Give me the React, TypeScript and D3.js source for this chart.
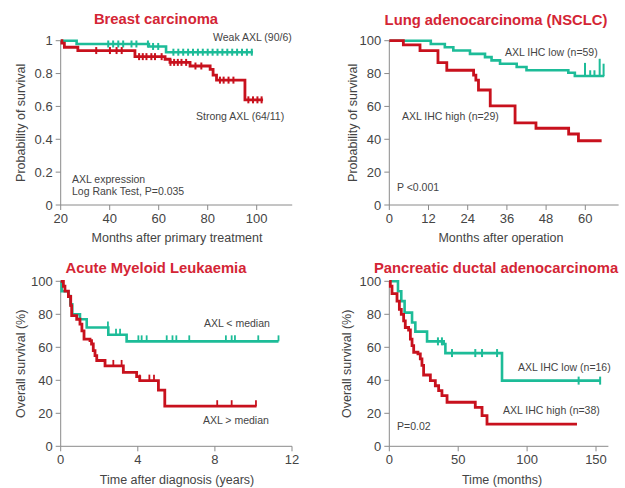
import React from "react";
import * as d3 from "d3";

// ---------- DATA ----------
// Breast carcinoma (months after primary treatment, probability)
const breastWeak: [number, number][] = [[20, 1], [26.5, 0.98], [56, 0.965], [63, 0.93], [98.5, 0.93]];
const breastWeakCensor = [39.4, 41.4, 43.5, 45.5, 48.9, 50.9, 55.6, 57.7, 59.8, 66, 68, 70, 72, 74, 76, 78, 80, 82, 84, 86, 88, 90, 92, 94, 96, 98];
const breastStrong: [number, number][] = [[20, 1], [20.5, 0.985], [21.5, 0.96], [27, 0.94], [50.3, 0.903], [62.6, 0.887], [64.6, 0.868], [72.8, 0.846], [81, 0.826], [82.2, 0.79], [83.6, 0.76], [95.2, 0.64], [102.6, 0.64]];
const breastStrongCensor = [34.5, 40.1, 42.8, 44.9, 52, 53.5, 55, 57, 58.5, 61.2, 64.8, 66.3, 67.8, 69.3, 71.2, 75, 77.4, 85, 86.5, 88.5, 90.5, 96.6, 98.5, 100.3, 102];

// Lung adenocarcinoma (months after operation, %)
const lungLow: [number, number][] = [[0, 100], [12.7, 98], [17, 96], [19.6, 94], [24.7, 92], [29.3, 90], [31.3, 88], [33.9, 86], [39, 84], [42, 82], [54.8, 80.5], [56.8, 78.5], [65.8, 78.5]];
const lungLowCensor = [59.9, 61.5, 62.8, 64.4, 65.6];
const lungLowCensorTop = [86.5, 82, 82, 89, 86];
const lungHigh: [number, number][] = [[0, 100], [4.3, 97.5], [9.4, 94], [14.9, 86.6], [17.6, 82], [25.8, 79], [26.5, 76], [27.3, 70], [30.9, 60.3], [38.5, 50], [44.9, 46.7], [54.9, 43.2], [57.9, 39.1], [65, 39.1]];

// Acute Myeloid Leukaemia (years after diagnosis, %)
const amlLow: [number, number][] = [[0, 100], [0.05, 94], [0.4, 91], [0.5, 86], [0.6, 80], [1.0, 77], [1.35, 72], [2.47, 67.6], [3.42, 63.6], [11.3, 63.6]];
const amlLowCensor = [1.0, 2.45, 2.87, 3.08, 4.03, 4.2, 4.46, 5.5, 5.8, 6.0, 6.67, 8.57, 8.87, 9.04, 10.25, 11.3];
const amlHigh: [number, number][] = [[0, 100], [0.14, 97], [0.22, 94], [0.4, 90.8], [0.52, 85.2], [0.57, 79.2], [0.83, 77], [1.0, 74], [1.1, 70], [1.21, 65], [1.52, 64], [1.6, 62], [1.69, 58], [1.78, 55], [1.87, 52], [2.3, 48.7], [3.25, 44.8], [3.94, 42.2], [4.1, 39.8], [5.07, 34], [5.4, 24.3], [10.16, 24.3]];
const amlHighCensor = [2.73, 3.16, 4.1, 4.6, 4.84, 8.12, 8.87, 10.13];

// Pancreatic ductal adenocarcinoma (months, %)
const pancLow: [number, number][] = [[0, 100], [6.3, 94], [8.7, 88], [11.1, 81], [16.5, 75], [18.9, 69.5], [27.4, 63.6], [39.5, 62], [40.7, 56.5], [81.8, 39.8], [153, 39.8]];
const pancLowCensor = [35.3, 38.2, 45.5, 62.4, 67.3, 78.2, 137.4, 153];
const pancHigh: [number, number][] = [[0, 100], [0.75, 97], [1.96, 92.5], [5.6, 88], [7.3, 83], [8.7, 80], [10.4, 76], [11.6, 72], [14, 70.5], [15.3, 65], [16.5, 61], [17.7, 57], [20.8, 56], [22.5, 53], [23.7, 49], [24.9, 43.2], [29.8, 39.8], [33.4, 36.7], [35.8, 33.7], [38.2, 30.7], [41.9, 26.7], [62.4, 23.6], [67.3, 18.6], [70.9, 13.5], [136.2, 13.5]];

const breastXTicks = [20, 40, 60, 80, 100];
const breastYTicks = [0, 0.2, 0.4, 0.6, 0.8, 1];
const lungXTicks = [0, 12, 24, 36, 48, 60];
const pctYTicks = [0, 20, 40, 60, 80, 100];
const amlXTicks = [0, 4, 8, 12];
const pancXTicks = [0, 50, 100, 150];

const TEAL = "#1dbc98";
const RED = "#c8111d";
const TITLE_RED = "#d42535";
const TEXT = "#444";
const AXIS = "#8a8a8a";
const FONT = "'Liberation Sans', Arial, sans-serif";

type Curve = {
  pts: [number, number][];
  color: string;
  width: number;
  censor?: number[];
  censorTop?: number[];
  censorType?: "cross" | "up";
  censorSize?: number;
};

type Label = { text: string; x: number; y: number; anchor?: string };

type PanelProps = {
  left: number; right: number; top: number; bottom: number;
  xDomain: [number, number]; yDomain: [number, number];
  xAxisEnd: number;
  xTicks: number[]; yTicks: number[];
  yFmt: (v: number) => string;
  title: string; titleX: number; titleY: number;
  xLabel: string; xLabelX: number; xLabelY: number;
  yLabel: string; yLabelX: number;
  curves: Curve[];
  labels: Label[];
};

function stepValue(pts: [number, number][], t: number) {
  let v = pts[0][1];
  for (const p of pts) if (p[0] <= t) v = p[1];
  return v;
}

function Panel(p: PanelProps) {
  const x = d3.scaleLinear().domain(p.xDomain).range([p.left, p.right]);
  const y = d3.scaleLinear().domain(p.yDomain).range([p.bottom, p.top]);
  const line = d3.line<[number, number]>().x(d => x(d[0])).y(d => y(d[1])).curve(d3.curveStepAfter);
  const yMid = (p.top + p.bottom) / 2;
  return (
    <g>
      <text x={p.titleX} y={p.titleY} textAnchor="middle" fontWeight="bold" fontSize={14.8} fill={TITLE_RED} fontFamily={FONT}>{p.title}</text>
      {/* axes */}
      <line x1={x(p.xDomain[0])} x2={x(p.xAxisEnd)} y1={p.bottom} y2={p.bottom} stroke={AXIS} strokeWidth={1} />
      <line x1={p.left} x2={p.left} y1={p.bottom} y2={p.top} stroke={AXIS} strokeWidth={1} />
      {p.xTicks.map(t => (
        <g key={"xt" + t}>
          <line x1={x(t)} x2={x(t)} y1={p.bottom} y2={p.bottom + 5} stroke={AXIS} />
          <text x={x(t)} y={p.bottom + 18} textAnchor="middle" fontSize={13} fill={TEXT} fontFamily={FONT}>{t}</text>
        </g>
      ))}
      {p.yTicks.map(t => (
        <g key={"yt" + t}>
          <line x1={p.left - 5} x2={p.left} y1={y(t)} y2={y(t)} stroke={AXIS} />
          <text x={p.left - 8} y={y(t) + 4.5} textAnchor="end" fontSize={13} fill={TEXT} fontFamily={FONT}>{p.yFmt(t)}</text>
        </g>
      ))}
      <text x={p.xLabelX} y={p.xLabelY} textAnchor="middle" fontSize={12.5} fill={TEXT} fontFamily={FONT}>{p.xLabel}</text>
      <text transform={`translate(${p.yLabelX},${yMid}) rotate(-90)`} textAnchor="middle" fontSize={12.5} fill={TEXT} fontFamily={FONT}>{p.yLabel}</text>
      {p.curves.map((c, i) => (
        <g key={"c" + i}>
          <path d={line(c.pts) || ""} fill="none" stroke={c.color} strokeWidth={c.width} />
          {(c.censor || []).map((t, j) => {
            const v = stepValue(c.pts, t);
            const cx = x(t);
            const cy = y(v);
            const s = c.censorSize || 4;
            if (c.censorTop) {
              return <line key={j} x1={cx} x2={cx} y1={cy} y2={y(c.censorTop[j])} stroke={c.color} strokeWidth={2} />;
            }
            if (c.censorType === "up") {
              return <line key={j} x1={cx} x2={cx} y1={cy} y2={cy - s * 1.5} stroke={c.color} strokeWidth={1.8} />;
            }
            return <line key={j} x1={cx} x2={cx} y1={cy - s} y2={cy + s} stroke={c.color} strokeWidth={2} />;
          })}
        </g>
      ))}
      {p.labels.map((l, i) => (
        <text key={"l" + i} x={l.x} y={l.y} textAnchor={l.anchor || "start"} fontSize={10.5} fill={TEXT} fontFamily={FONT}>{l.text}</text>
      ))}
    </g>
  );
}

export default function App() {
  return (
    <svg width={625} height={488} style={{ position: "absolute", left: 0, top: 0, background: "#fff" }}>
      <rect width={625} height={488} fill="#fff" />
      <Panel
        left={60.7} right={256.7} top={40.7} bottom={205}
        xDomain={[20, 100]} yDomain={[0, 1]} xAxisEnd={114.5}
        xTicks={breastXTicks} yTicks={breastYTicks} yFmt={v => String(v)}
        title="Breast carcinoma" titleX={156} titleY={24}
        xLabel="Months after primary treatment" xLabelX={177} xLabelY={242}
        yLabel="Probability of survival" yLabelX={25}
        curves={[
          { pts: breastWeak, color: TEAL, width: 2.6, censor: breastWeakCensor, censorType: "cross", censorSize: 3.5 },
          { pts: breastStrong, color: RED, width: 2.8, censor: breastStrongCensor, censorType: "cross", censorSize: 3.5 },
        ]}
        labels={[
          { text: "Weak AXL (90/6)", x: 213, y: 41 },
          { text: "Strong AXL (64/11)", x: 196, y: 120 },
          { text: "AXL expression", x: 72, y: 183 },
          { text: "Log Rank Test, P=0.035", x: 72, y: 195 },
        ]}
      />
      <Panel
        left={389.3} right={585.3} top={40.7} bottom={205}
        xDomain={[0, 60]} yDomain={[0, 100]} xAxisEnd={70.2}
        xTicks={lungXTicks} yTicks={pctYTicks} yFmt={v => String(v)}
        title="Lung adenocarcinoma (NSCLC)" titleX={496} titleY={25}
        xLabel="Months after operation" xLabelX={501} xLabelY={242}
        yLabel="Probability of survival" yLabelX={357}
        curves={[
          { pts: lungLow, color: TEAL, width: 2.6, censor: lungLowCensor, censorTop: lungLowCensorTop },
          { pts: lungHigh, color: RED, width: 2.8 },
        ]}
        labels={[
          { text: "AXL IHC low (n=59)", x: 505, y: 56 },
          { text: "AXL IHC high (n=29)", x: 402, y: 120 },
          { text: "P <0.001", x: 397, y: 191 },
        ]}
      />
      <Panel
        left={60.7} right={292} top={281.3} bottom={446.3}
        xDomain={[0, 12]} yDomain={[0, 100]} xAxisEnd={12}
        xTicks={amlXTicks} yTicks={pctYTicks} yFmt={v => String(v)}
        title="Acute Myeloid Leukaemia" titleX={156} titleY={273}
        xLabel="Time after diagnosis (years)" xLabelX={177} xLabelY={484}
        yLabel="Overall survival (%)" yLabelX={25}
        curves={[
          { pts: amlLow, color: TEAL, width: 2.6, censor: amlLowCensor, censorType: "up", censorSize: 4 },
          { pts: amlHigh, color: RED, width: 2.8, censor: amlHighCensor, censorType: "up", censorSize: 4 },
        ]}
        labels={[
          { text: "AXL < median", x: 204, y: 327 },
          { text: "AXL > median", x: 203, y: 424 },
        ]}
      />
      <Panel
        left={389.3} right={596} top={281.3} bottom={446.3}
        xDomain={[0, 150]} yDomain={[0, 100]} xAxisEnd={159}
        xTicks={pancXTicks} yTicks={pctYTicks} yFmt={v => String(v)}
        title="Pancreatic ductal adenocarcinoma" titleX={496} titleY={273}
        xLabel="Time (months)" xLabelX={502} xLabelY={484}
        yLabel="Overall survival (%)" yLabelX={351}
        curves={[
          { pts: pancLow, color: TEAL, width: 2.6, censor: pancLowCensor, censorType: "cross", censorSize: 4 },
          { pts: pancHigh, color: RED, width: 2.8 },
        ]}
        labels={[
          { text: "AXL IHC low (n=16)", x: 518, y: 371 },
          { text: "AXL IHC high (n=38)", x: 503, y: 414 },
          { text: "P=0.02", x: 397, y: 430 },
        ]}
      />
    </svg>
  );
}
